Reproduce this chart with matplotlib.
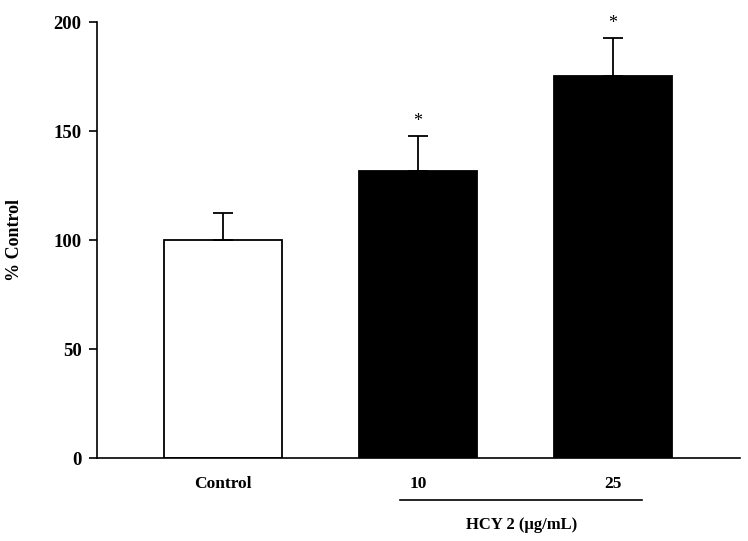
import matplotlib
matplotlib.use("Agg")
import matplotlib.pyplot as plt

categories = ["Control", "10", "25"]
values = [100, 131.7, 175.2]
errors = [12.4, 16.0, 17.5]
significant = [False, True, True]
colors = ["white", "black", "black"]
yticks = [0, 50, 100, 150, 200]
group_label = "HCY 2 (\u00b5g/mL)"

plt.rcParams['font.family'] = ['Liberation Serif', 'DejaVu Serif']
plt.rcParams['font.weight'] = 'bold'

fig = plt.figure(figsize=(7.48, 5.41), dpi=100)
ax = fig.add_axes([0.1297, 0.1534, 0.8593, 0.8056])

x = list(range(len(categories)))
ax.bar(x, values, width=0.61, color=colors, edgecolor="black", linewidth=1.3, zorder=2)
ax.errorbar(x, values, yerr=[[0]*len(errors), errors], fmt="none", ecolor="black",
            elinewidth=1.3, capsize=7, capthick=1.3, zorder=3)
for xi, v, e, s in zip(x, values, errors, significant):
    if s:
        ax.text(xi, v + e + 3, "*", ha="center", va="bottom", fontsize=13, fontweight="normal")

ax.set_xlim(-0.646, 2.65)
ax.set_ylim(0, 200)
ax.set_yticks(yticks)
ax.set_yticklabels([str(t) for t in yticks], fontsize=13.5, fontweight="bold")
ax.tick_params(axis="y", direction="out", length=6, width=1.2, pad=5)
ax.set_xticks([])
ax.spines["top"].set_visible(False)
ax.spines["right"].set_visible(False)
ax.spines["left"].set_linewidth(1.2)
ax.spines["bottom"].set_linewidth(1.2)
ax.set_ylabel("% Control", fontsize=13, fontweight="bold", labelpad=22)

trans = ax.get_xaxis_transform()
for xi, c in zip(x, categories):
    ax.text(xi, -0.06, c, transform=trans, ha="center", va="center", fontsize=12.5,
            fontweight="bold")
ax.plot([0.91, 2.15], [-0.096, -0.096], transform=trans, color="black", lw=1.2, clip_on=False)
ax.text(1.53, -0.154, group_label, transform=trans, ha="center", va="center", fontsize=12,
        fontweight="bold")

fig.savefig("out.png", dpi=100)
